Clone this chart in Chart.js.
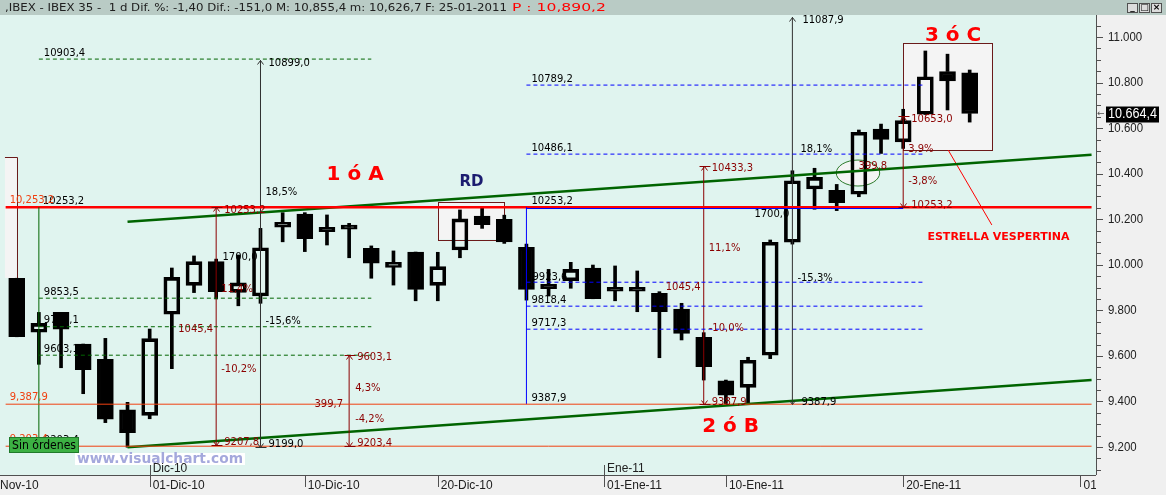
<!DOCTYPE html>
<html>
<head>
<meta charset="utf-8">
<script src="https://cdn.jsdelivr.net/npm/chart.js@4.4.0/dist/chart.umd.min.js"></script>
<style>
html, body { margin: 0; padding: 0; background: #f0f0f0; overflow: hidden; }
canvas { display: block; }
</style>
</head>
<body>
<canvas id="grafico" width="1166" height="495"></canvas>
<script>
const fechas = ['23-Nov-10','24-Nov-10','25-Nov-10','26-Nov-10','29-Nov-10','30-Nov-10','01-Dic-10','02-Dic-10','03-Dic-10','06-Dic-10',
    '07-Dic-10','08-Dic-10','09-Dic-10','10-Dic-10','13-Dic-10','14-Dic-10','15-Dic-10','16-Dic-10','17-Dic-10','20-Dic-10',
    '21-Dic-10','22-Dic-10','23-Dic-10','27-Dic-10','28-Dic-10','29-Dic-10','30-Dic-10','03-Ene-11','04-Ene-11','05-Ene-11',
    '06-Ene-11','07-Ene-11','10-Ene-11','11-Ene-11','12-Ene-11','13-Ene-11','14-Ene-11','17-Ene-11','18-Ene-11','19-Ene-11',
    '20-Ene-11','21-Ene-11','24-Ene-11','25-Ene-11'];
const apertura = [9941, 9704, 9791, 9652, 9585, 9363, 9339, 9783, 9910, 10014, 9879, 9863, 10165, 10223, 10165, 10165, 10072, 9989, 10056, 9910,
    10065, 10214, 10200, 10077, 9914, 9930, 9986, 9898, 9898, 9875, 9806, 9682, 9490, 9462, 9603, 10099, 10333, 10327, 10310, 10596,
    10540, 10661, 10849, 10843];
const maximo = [9941, 9791, 9791, 9652, 9677, 9396, 9718, 9986, 10039, 10025, 10043, 10160, 10229, 10229, 10219, 10182, 10083, 10061, 10056, 10055,
    10241, 10248, 10218, 10091, 9980, 10011, 9999, 9995, 9973, 9882, 9831, 9702, 9494, 9594, 10109, 10413, 10424, 10353, 10592, 10618,
    10683, 10939, 10925, 10855.4];
const minimo = [9684, 9563, 9548, 9434, 9307, 9199, 9324, 9544, 9878, 9850, 9820, 9831, 10101, 10058, 10087, 10031, 9941, 9911, 9842, 9842,
    10031, 10160, 10094, 9845, 9863, 9897, 9851, 9842, 9794, 9592, 9670, 9494, 9388, 9392, 9588, 10091, 10244, 10238, 10299, 10489,
    10511, 10660, 10680, 10626.7];
const cierre = [9684, 9743, 9717, 9539, 9322, 9263, 9676, 9945, 10014, 9882, 9921, 10075, 10187, 10115, 10145, 10157, 10007, 10011, 9892, 9992,
    10202, 10176, 10101, 9892, 9895, 9980, 9851, 9884, 9884, 9794, 9699, 9553, 9428, 9581, 10099, 10369, 10384, 10273, 10582, 10551,
    10633, 10826, 10808, 10664.4];

const ticksPrecio = [9200, 9400, 9600, 9800, 10000, 10200, 10400, 10600, 10800, 11000];
const ticksPrecioTxt = ['9.200', '9.400', '9.600', '9.800', '10.000', '10.200', '10.400', '10.600', '10.800', '11.000'];
const ticksFechaPos = [6, 13, 19, 26.5, 32, 40, 48];
const ticksFechaTxt = ['01-Dic-10', '10-Dic-10', '20-Dic-10', '01-Ene-11', '10-Ene-11', '20-Ene-11', '01-Feb-11'];
const mesesPos = [6, 26.5];
const mesesTxt = ['Dic-10', 'Ene-11'];

const nivelRojo = 10253.2;
const nivelesNaranja = [9387.9, 9203.4];
const fiboVerde = [10903.4, 9853.5, 9728.1, 9603.1];
const fiboAzul = [10789.2, 10486.1, 9923.6, 9818.4, 9717.3];
const tendenciaSup = [[5, 10189], [48.5, 10483]];
const tendenciaInf = [[5, 9199], [48.5, 9494]];
const ultimoPrecio = 10664.4;

const OSCURO = '#8b0000';
const NARANJA = '#f04010';
const FUENTE = '10px "DejaVu Sans"';

// [texto, indice, precio, dx, dy, color, alineacion]
const etiquetas = [
    ['10903,4', 1, 10903.4, 5, -6, '#000'],
    ['10899,0', 11, 10899, 8, 3, '#000'],
    ['18,5%', 11, 10320, 5, 0, '#000'],
    ['10253,2', 1, 10253.2, 4, -6, '#000'],
    ['1700,0', 11, 10034, -3, 0, '#000', 'right'],
    ['9853,5', 1, 9853.5, 5, -6, '#000'],
    ['9728,1', 1, 9728.1, 5, -6, '#000'],
    ['-15,6%', 11, 9753, 5, 0, '#000'],
    ['9603,1', 1, 9603.1, 5, -6, '#000'],
    ['9199,0', 11, 9199, 8, -3, '#000'],
    ['9203,4', 1, 9203.4, 5, -6, '#000'],
    ['10789,2', 23, 10789.2, 5, -6, '#000'],
    ['10486,1', 23, 10486.1, 5, -6, '#000'],
    ['10253,2', 23, 10253.2, 5, -6, '#000'],
    ['9923,6', 23, 9923.6, 6, -5, '#000'],
    ['9818,4', 23, 9818.4, 5, -6, '#000'],
    ['9717,3', 23, 9717.3, 5, -6, '#000'],
    ['9387,9', 23, 9387.9, 5, -6, '#000'],
    ['11087,9', 35, 11087.9, 10, 3, '#000'],
    ['18,1%', 35, 10508, 8, 0, '#000'],
    ['1700,0', 35, 10223, -3, 0, '#000', 'right'],
    ['-15,3%', 35, 9942, 5, 0, '#000'],
    ['9387,9', 35, 9387.9, 9, -2, '#000'],
    ['10253,2', 9, 10253.2, 8, 3, OSCURO],
    ['11,4%', 9, 9891, 5, 0, OSCURO],
    ['1045,4', 9, 9718, -3, 0, OSCURO, 'right'],
    ['-10,2%', 9, 9542, 5, 0, OSCURO],
    ['9207,8', 9, 9207.8, 8, -3, OSCURO],
    ['9603,1', 15, 9603.1, 8, 2, OSCURO],
    ['4,3%', 15, 9459, 6, 0, OSCURO],
    ['399,7', 15, 9389, -6, 0, OSCURO, 'right'],
    ['-4,2%', 15, 9323, 6, 0, OSCURO],
    ['9203,4', 15, 9203.4, 8, -3, OSCURO],
    ['10433,3', 31, 10433.3, 8, 2, OSCURO],
    ['11,1%', 31, 10074, 5, 0, OSCURO],
    ['1045,4', 31, 9900, -3, 0, OSCURO, 'right'],
    ['-10,0%', 31, 9722, 5, 0, OSCURO],
    ['9387,9', 31, 9387.9, 8, -2, OSCURO],
    ['10653,0', 40, 10653, 8, 3, OSCURO],
    ['3,9%', 40, 10508, 5, 0, OSCURO],
    ['-3,8%', 40, 10368, 5, 0, OSCURO],
    ['10253,2', 40, 10253.2, 8, -2, OSCURO],
    ['399,8', 40, 10434, -16, 0, OSCURO, 'right'],
    ['10,253,2', -0.5, 10253.2, 4, -7, NARANJA],
    ['9,387,9', -0.5, 9387.9, 4, -7, NARANJA],
    ['9,203,4', -0.5, 9203.4, 4, -7, NARANJA]
];

// [texto, indice, precio, color, fuente]
const rotulos = [
    ['1 ó A', 15.27, 10394, '#ff0000', 'bold 20px "DejaVu Sans"'],
    ['2 ó B', 32.21, 9290, '#ff0000', 'bold 20px "DejaVu Sans"'],
    ['3 ó C', 42.25, 11006, '#ff0000', 'bold 20px "DejaVu Sans"'],
    ['RD', 20.52, 10361, '#1c1c70', 'bold 15px "DejaVu Sans"'],
    ['ESTRELLA VESPERTINA', 44.3, 10122, '#ff0000', 'bold 11px "DejaVu Sans"']
];

function segmento(a, b, color, ancho, dash) {
    return {
        type: 'line',
        data: [{ x: a[0], y: a[1] }, { x: b[0], y: b[1] }],
        borderColor: color,
        borderWidth: ancho,
        borderDash: dash || [],
        pointRadius: 0,
        fill: false,
        order: 1
    };
}

const lineas = [];
fiboVerde.forEach(v => lineas.push(segmento([1, v], [16, v], '#006400', 1, [4, 3])));
fiboAzul.forEach(v => lineas.push(segmento([23, v], [41, v], '#0000ff', 1, [4, 3])));
nivelesNaranja.forEach(v => lineas.push(segmento([-0.5, v], [48.5, v], NARANJA, 1)));
lineas.push(segmento([1, 9203.4], [1, nivelRojo], '#006400', 1));
lineas.push(segmento([23, 9387.9], [23, nivelRojo], '#0000ff', 1));
lineas.push(segmento([23, nivelRojo - 6], [40, nivelRojo - 6], '#0000ff', 1));
lineas.push(segmento([-0.5, nivelRojo], [48.5, nivelRojo], '#ff0000', 2.5));
lineas.push(segmento([11, 9199], [11, 10899], '#303030', 1));
lineas.push(segmento([35, 9387.9], [35, 11087.9], '#303030', 1));
lineas.push(segmento([9, 9207.8], [9, 10253.2], OSCURO, 1));
lineas.push(segmento([15, 9203.4], [15, 9603.1], OSCURO, 1));
lineas.push(segmento([31, 9387.9], [31, 10433.3], OSCURO, 1));
lineas.push(segmento([40, 10253.2], [40, 10653], OSCURO, 1));
lineas.push(segmento(tendenciaSup[0], tendenciaSup[1], '#006400', 2.5));
lineas.push(segmento(tendenciaInf[0], tendenciaInf[1], '#006400', 2.5));
lineas.push(segmento([42.03, 10504], [44.0, 10175], '#ff0000', 1));

function texto(ctx, s, x, y, color, fuente, alinear, sx) {
    ctx.save();
    ctx.font = fuente;
    ctx.fillStyle = color;
    ctx.textBaseline = 'middle';
    ctx.textAlign = alinear || 'left';
    ctx.translate(x, y);
    ctx.scale(sx || 1, 1);
    ctx.fillText(s, 0, 0);
    ctx.restore();
}

function textoAjustado(ctx, s, x, y, ancho, color, fuente) {
    ctx.save();
    ctx.font = fuente;
    const w = ctx.measureText(s).width;
    ctx.restore();
    texto(ctx, s, x, y, color, fuente, 'left', ancho / w);
}

const fondoPlugin = {
    id: 'fondo',
    beforeDraw(chart) {
        const { ctx, chartArea: a } = chart;
        ctx.save();
        ctx.fillStyle = '#f0f0f0';
        ctx.fillRect(0, 0, chart.width, chart.height);
        ctx.fillStyle = '#e0f4ef';
        ctx.fillRect(a.left, a.top, a.right - a.left, a.bottom - a.top);
        ctx.fillStyle = '#b9cbc5';
        ctx.fillRect(0, 0, chart.width, a.top);
        ctx.restore();
    },
    beforeDatasetsDraw(chart) {
        const { ctx, scales: { x, y } } = chart;
        ctx.save();
        const caja = (i0, i1, p0, p1) => {
            const x0 = x.getPixelForValue(i0), x1 = x.getPixelForValue(i1);
            const y0 = y.getPixelForValue(p0), y1 = y.getPixelForValue(p1);
            ctx.fillStyle = '#f4f4f4';
            ctx.fillRect(x0, y0, x1 - x0, y1 - y0);
            ctx.strokeStyle = '#6b1a1a';
            ctx.lineWidth = 1;
            ctx.strokeRect(Math.round(x0) + 0.5, Math.round(y0) + 0.5, Math.round(x1 - x0), Math.round(y1 - y0));
        };
        caja(19, 22, 10277, 10112);
        caja(40, 44, 10972, 10504);

        // franja de ordenes a la izquierda
        const fx0 = x.getPixelForValue(-0.53), fx1 = x.getPixelForValue(0);
        const fy0 = y.getPixelForValue(10473), fy1 = y.getPixelForValue(9942);
        ctx.fillStyle = '#f4f4f4';
        ctx.fillRect(fx0, fy0, fx1 - fx0, fy1 - fy0);
        ctx.strokeStyle = '#6b1a1a';
        ctx.beginPath();
        ctx.moveTo(fx0, Math.round(fy0) + 0.5);
        ctx.lineTo(Math.round(fx1) + 0.5, Math.round(fy0) + 0.5);
        ctx.lineTo(Math.round(fx1) + 0.5, fy1);
        ctx.stroke();

        // elipse verde
        const cx = x.getPixelForValue(37.96), cy = y.getPixelForValue(10403);
        const rx = x.getPixelForValue(38.94) - cx, ry = cy - y.getPixelForValue(10460);
        ctx.beginPath();
        ctx.ellipse(cx, cy, rx, ry, 0, 0, Math.PI * 2);
        ctx.fillStyle = '#f4f4f4';
        ctx.fill();
        ctx.strokeStyle = '#2a7a2a';
        ctx.stroke();
        ctx.restore();
    },
    afterDatasetsDraw(chart) {
        const { ctx, scales: { x, y } } = chart;
        ctx.save();
        const flecha = (i, p, arriba, color, barra) => {
            const px = Math.round(x.getPixelForValue(i)) + 0.5, py = Math.round(y.getPixelForValue(p)) + 0.5;
            const d = arriba ? 1 : -1;
            ctx.strokeStyle = color;
            ctx.lineWidth = 1;
            ctx.beginPath();
            ctx.moveTo(px - 3, py + 4 * d);
            ctx.lineTo(px, py);
            ctx.lineTo(px + 3, py + 4 * d);
            if (barra) {
                ctx.moveTo(px - 5, py);
                ctx.lineTo(px + 6, py);
            }
            ctx.stroke();
        };
        flecha(11, 10899, true, '#303030');
        flecha(35, 11087.9, true, '#303030');
        flecha(11, 9199, false, '#303030', true);
        flecha(35, 9387.9, false, '#303030');
        [[9, 10253.2, 9207.8], [15, 9603.1, 9203.4], [31, 10433.3, 9387.9], [40, 10653, 10253.2]].forEach(m => {
            flecha(m[0], m[1], true, OSCURO, true);
            flecha(m[0], m[2], false, OSCURO, true);
        });

        etiquetas.forEach(e => {
            texto(ctx, e[0], x.getPixelForValue(e[1]) + e[3], y.getPixelForValue(e[2]) + e[4], e[5], FUENTE, e[6]);
        });
        rotulos.forEach(r => {
            texto(ctx, r[0], x.getPixelForValue(r[1]), y.getPixelForValue(r[2]), r[3], r[4], 'center');
        });
        ctx.restore();
    },
    afterDraw(chart) {
        const { ctx, chartArea: a, scales: { x, y } } = chart;
        ctx.save();

        // marca de agua y caja de ordenes
        ctx.fillStyle = '#ffffff';
        ctx.fillRect(75, 453, 170, 12);
        textoAjustado(ctx, 'www.visualchart.com', 77, 459.5, 166, '#a4a8dc', 'bold 14px "DejaVu Sans"');
        ctx.fillStyle = '#3cb043';
        ctx.fillRect(9, 437, 70, 16);
        ctx.strokeStyle = '#1f7a2a';
        ctx.strokeRect(9.5, 437.5, 69, 15);
        textoAjustado(ctx, 'Sin órdenes', 12, 445.5, 64, '#000', '12px "DejaVu Sans"');

        // eje de precios
        ctx.strokeStyle = '#505050';
        ctx.lineWidth = 1;
        ctx.beginPath();
        ctx.moveTo(a.right + 0.5, a.top);
        ctx.lineTo(a.right + 0.5, a.bottom);
        ctx.moveTo(a.left, a.bottom + 0.5);
        ctx.lineTo(a.right, a.bottom + 0.5);
        for (let p = 9100; p <= 11050; p += 50) {
            const py = Math.round(y.getPixelForValue(p)) + 0.5;
            ctx.moveTo(a.right, py);
            ctx.lineTo(a.right + (p % 200 === 0 ? 7 : 5), py);
        }
        ctx.stroke();
        ticksPrecio.forEach((p, k) => {
            texto(ctx, ticksPrecioTxt[k], a.right + 12, y.getPixelForValue(p), '#202020', '13px "Liberation Sans"', 'left', 0.88);
        });

        // precio actual
        const yp = y.getPixelForValue(ultimoPrecio);
        ctx.fillStyle = '#000';
        ctx.fillRect(a.right + 10, yp - 7, 53, 16);
        textoAjustado(ctx, '10.664,4', a.right + 12, yp + 1, 49, '#ffffff', '14px "Liberation Sans"');
        texto(ctx, '←', a.right + 1, yp, '#505050', '9px "DejaVu Sans"');

        // eje de fechas
        ctx.beginPath();
        ticksFechaPos.forEach(i => {
            const px = Math.round(x.getPixelForValue(i)) + 0.5;
            const largo = mesesPos.includes(i);
            ctx.moveTo(px, largo ? a.bottom - 10 : a.bottom + 1);
            ctx.lineTo(px, a.bottom + 12);
        });
        ctx.stroke();
        ctx.beginPath();
        ctx.rect(0, a.bottom + 1, a.right, 20);
        ctx.clip();
        texto(ctx, 'Nov-10', 0, a.bottom + 10, '#202020', '13px "Liberation Sans"', 'left', 0.92);
        ticksFechaPos.forEach((i, k) => {
            texto(ctx, ticksFechaTxt[k], x.getPixelForValue(i) + 3, a.bottom + 10, '#202020', '13px "Liberation Sans"', 'left', 0.92);
        });
        ctx.restore();
        ctx.save();
        mesesPos.forEach((i, k) => {
            texto(ctx, mesesTxt[k], x.getPixelForValue(i) + 3, a.bottom - 7, '#202020', '13px "Liberation Sans"', 'left', 0.92);
        });

        // cabecera
        textoAjustado(ctx, ',IBEX - IBEX 35 -  1 d Dif. %: -1,40 Dif.: -151,0 M: 10,855,4 m: 10,626,7 F: 25-01-2011',
            5, 8, 502, '#202020', '11px "DejaVu Sans"');
        textoAjustado(ctx, 'P : 10,890,2', 512, 8, 94, '#ff0000', '11px "DejaVu Sans"');
        ['_', '□', '×'].forEach((g, k) => {
            const bx = 1127 + k * 12;
            ctx.fillStyle = '#dcdcdc';
            ctx.fillRect(bx, 3, 11, 10);
            ctx.strokeStyle = '#505050';
            ctx.strokeRect(bx + 0.5, 3.5, 10, 9);
            texto(ctx, g, bx + 5.5, 8, '#000', 'bold 9px "DejaVu Sans"', 'center');
        });
        ctx.restore();
    }
};

const subida = i => cierre[i] >= apertura[i];

new Chart(document.getElementById('grafico').getContext('2d'), {
    type: 'bar',
    data: {
        datasets: [
            {
                data: fechas.map((f, i) => ({ x: i, y: [Math.max(apertura[i], cierre[i]), maximo[i]] })),
                backgroundColor: '#000',
                barThickness: 3,
                grouped: false,
                order: 10
            },
            {
                data: fechas.map((f, i) => ({ x: i, y: [minimo[i], Math.min(apertura[i], cierre[i])] })),
                backgroundColor: '#000',
                barThickness: 3,
                grouped: false,
                order: 10
            },
            {
                data: fechas.map((f, i) => ({ x: i, y: [apertura[i], cierre[i]] })),
                backgroundColor: c => subida(c.dataIndex) ? 'rgba(0,0,0,0)' : '#000',
                borderColor: '#000',
                borderWidth: 3,
                borderSkipped: false,
                barThickness: 16,
                minBarLength: 4,
                grouped: false,
                order: 9
            },
            ...lineas
        ]
    },
    options: {
        responsive: false,
        animation: false,
        devicePixelRatio: 1,
        layout: { padding: { top: 15, right: 70, bottom: 20, left: 0 } },
        plugins: { legend: { display: false }, tooltip: { enabled: false } },
        scales: {
            x: { type: 'linear', min: -0.754, max: 48.7, display: false, offset: false },
            y: { min: 9077, max: 11097, display: false }
        }
    },
    plugins: [fondoPlugin]
});
</script>
</body>
</html>
